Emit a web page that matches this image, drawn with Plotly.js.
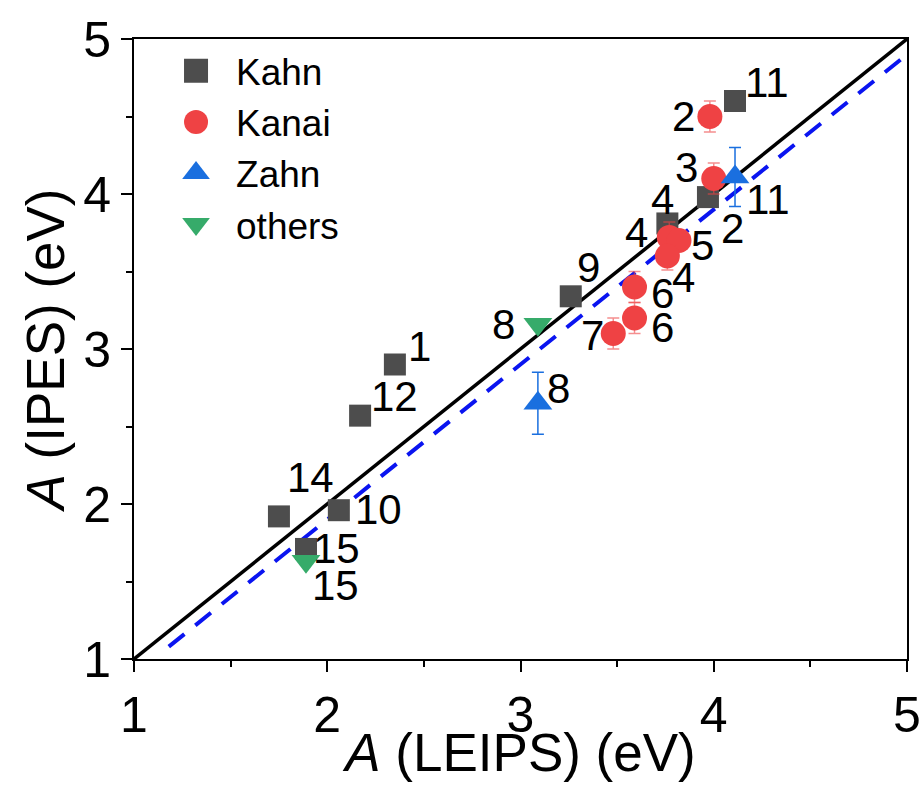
<!DOCTYPE html>
<html>
<head>
<meta charset="utf-8">
<script src="https://cdn.plot.ly/plotly-3.0.1.min.js"></script>
<style>html,body{margin:0;padding:0;background:#fff;}#chart{width:923px;height:790px;}</style>
</head>
<body>
<div id="chart"></div>
<script>
// Kahn (squares)
const kahnX = [4.11, 3.97, 3.76, 3.26, 2.35, 2.17, 1.75, 2.06, 1.89];
const kahnY = [4.60, 3.98, 3.81, 3.34, 2.90, 2.57, 1.92, 1.96, 1.71];
const kahnXErr = [0, 0.05, 0, 0, 0, 0, 0.03, 0, 0];
const kahnLabels = ["11", "2", "4", "9", "1", "12", "14", "10", "15"];
const kahnLabelDX = [32, 25, -5, 18, 25, 34, 32, 40, 31];
const kahnLabelDY = [-19, 31, -24, -29, -18, -19, -39, -1, 0];

// Kanai (circles)
const kanaiX = [3.98, 4.00, 3.77, 3.82, 3.76, 3.59, 3.59, 3.48];
const kanaiY = [4.50, 4.10, 3.72, 3.70, 3.60, 3.40, 3.20, 3.10];
const kanaiXErr = [0.055, 0, 0, 0.055, 0, 0, 0, 0];
const kanaiYErr = [0.1, 0.1, 0.1, 0, 0.09, 0.1, 0.1, 0.1];
const kanaiLabels = ["2", "3", "4", "5", "4", "6", "6", "7"];
const kanaiLabelDX = [-26, -27, -33, 24, 16, 28, 28, -21];
const kanaiLabelDY = [0, -11, -5, 5, 21, 6, 9, 2];

// Zahn (up triangles)
const zahnX = [4.11, 3.09];
const zahnY = [4.11, 2.65];
const zahnYErr = [0.19, 0.2];
const zahnLabels = ["11", "8"];
const zahnLabelDX = [33, 21];
const zahnLabelDY = [23, -15];

// others (down triangles)
const othersX = [3.09, 1.89];
const othersY = [3.16, 1.63];
const othersLabels = ["8", "15"];
const othersLabelDX = [-34, 30];
const othersLabelDY = [0, 24];

// Reference lines
const identityX = [1, 5];
const identityY = [1, 5];
const fitX = [1.18, 5.0];
const fitY = [1.08, 4.9];

const FONT = 'Liberation Sans, Arial, sans-serif';
const cKahn = '#4d4d4d', cKanai = '#ef4244', cZahn = '#1a6fdf', cOthers = '#36ab6a';

const traces = [
  {x: identityX, y: identityY, mode: 'lines', line: {color: '#000', width: 3.5}, showlegend: false, hoverinfo: 'skip'},
  {x: fitX, y: fitY, mode: 'lines', line: {color: '#0a14f0', width: 4, dash: '20px,14px'}, showlegend: false, hoverinfo: 'skip'},
  {x: kahnX, y: kahnY, name: 'Kahn', mode: 'markers', type: 'scatter',
   marker: {symbol: 'square', size: 22, color: cKahn},
   error_x: {type: 'data', array: kahnXErr, color: '#8a8a8a', thickness: 1.5, width: 5}},
  {x: kanaiX, y: kanaiY, name: 'Kanai', mode: 'markers', type: 'scatter',
   marker: {symbol: 'circle', size: 25, color: cKanai},
   error_x: {type: 'data', array: kanaiXErr, color: 'rgba(239,66,68,0.6)', thickness: 1.5, width: 6},
   error_y: {type: 'data', array: kanaiYErr, color: 'rgba(239,66,68,0.6)', thickness: 1.5, width: 6}},
  {x: zahnX, y: zahnY, name: 'Zahn', mode: 'markers', type: 'scatter',
   marker: {symbol: 'triangle-up', size: 25, color: cZahn},
   error_y: {type: 'data', array: zahnYErr, color: cZahn, thickness: 1.5, width: 6}},
  {x: othersX, y: othersY, name: 'others', mode: 'markers', type: 'scatter',
   marker: {symbol: 'triangle-down', size: 25, color: cOthers}}
];

const annotations = [];
function addLabels(xs, ys, labels, dxs, dys) {
  for (let i = 0; i < xs.length; i++) {
    annotations.push({x: xs[i], y: ys[i], xref: 'x', yref: 'y', text: labels[i], showarrow: false,
      xshift: dxs[i], yshift: -dys[i], xanchor: 'center', yanchor: 'middle',
      font: {family: FONT, size: 42, color: '#000'}});
  }
}
addLabels(kahnX, kahnY, kahnLabels, kahnLabelDX, kahnLabelDY);
addLabels(kanaiX, kanaiY, kanaiLabels, kanaiLabelDX, kanaiLabelDY);
addLabels(zahnX, zahnY, zahnLabels, zahnLabelDX, zahnLabelDY);
addLabels(othersX, othersY, othersLabels, othersLabelDX, othersLabelDY);

const axisCommon = {
  range: [1, 5], dtick: 1, tick0: 1, ticks: 'outside', ticklen: 11, tickwidth: 2, tickcolor: '#000',
  showline: true, linewidth: 2, linecolor: '#000', mirror: true, showgrid: false, zeroline: false,
  tickfont: {family: FONT, size: 50, color: '#000'},
  minor: {dtick: 0.5, ticks: 'outside', ticklen: 6, tickwidth: 2, tickcolor: '#000', showgrid: false}
};

const layout = {
  width: 923, height: 790,
  margin: {l: 134, r: 16, t: 39, b: 131},
  paper_bgcolor: '#fff', plot_bgcolor: '#fff',
  font: {family: FONT, color: '#000'},
  xaxis: Object.assign({}, axisCommon, {
    title: {text: '<i>A</i> (LEIPS) (eV)', font: {family: FONT, size: 53}, standoff: 0}
  }),
  yaxis: Object.assign({}, axisCommon, {
    title: {text: '<i>A</i> (IPES) (eV)', font: {family: FONT, size: 53}, standoff: 2}
  }),
  legend: {x: 0.0285, y: 0.998, xanchor: 'left', yanchor: 'top', bgcolor: 'rgba(0,0,0,0)',
    font: {family: FONT, size: 37, color: '#000'}, itemwidth: 70, tracegroupgap: 0},
  annotations: annotations,
  showlegend: true
};

Plotly.newPlot('chart', traces, layout, {displayModeBar: false, staticPlot: true}).then(function () {
  document.querySelectorAll('.legend .legendpoints path.scatterpts').forEach(function (p) {
    const t = p.getAttribute('transform') || '';
    p.setAttribute('transform', t + ' scale(1.5)');
  });
  const xt = document.querySelector('.g-xtitle');
  if (xt) xt.setAttribute('transform', 'translate(0,-8)');
});
</script>
</body>
</html>
